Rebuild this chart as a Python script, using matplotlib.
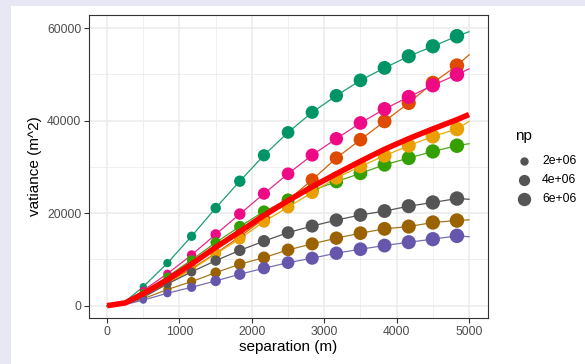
import matplotlib
matplotlib.use("Agg")
import matplotlib.pyplot as plt
from matplotlib.patches import Rectangle
from matplotlib.lines import Line2D
import numpy as np

plt.rcParams['font.family'] = ['Liberation Sans', 'DejaVu Sans']

# ---- data ----
dist = [500, 833, 1167, 1500, 1833, 2167, 2500, 2833, 3167, 3500, 3833, 4167, 4500, 4833]
npairs = [1.4e6, 1.95e6, 2.6e6, 3.4e6, 4.2e6, 4.9e6, 5.35e6, 5.75e6, 6.05e6, 6.35e6, 6.55e6, 6.8e6, 7.0e6, 7.2e6]

teal   = [4100, 9200, 15000, 21100, 26900, 32500, 37450, 41780, 45390, 48700, 51380, 53900, 56060, 58230]
pink   = [3300, 6900, 10970, 15400, 19800, 24200, 28500, 32550, 36080, 39480, 42510, 45110, 47620, 49940]
orange = [2400, 5000, 8000, 11300, 14900, 18800, 22800, 27200, 31900, 35870, 39830, 43800, 48140, 51880]
green  = [2800, 6280, 9890, 13640, 17100, 20350, 22880, 24900, 26800, 28600, 30450, 31900, 33330, 34570]
yellow = [2000, 4700, 7800, 11190, 14450, 18180, 21300, 24460, 27600, 30090, 32400, 34570, 36580, 38180]
grey   = [1800, 4700, 7300, 9740, 11950, 13950, 15800, 17200, 18500, 19600, 20450, 21500, 22300, 23150]
brown  = [1500, 3500, 5200, 7140, 8960, 10390, 12060, 13350, 14590, 15670, 16600, 17100, 17970, 18400]
purple = [1200, 2700, 3980, 5350, 6800, 8090, 9300, 10260, 11340, 12210, 12990, 13720, 14370, 15090]

# fitted-line values at 250 m and at 5000 m
line_start = {'teal': 900, 'pink': 650, 'orange': 450, 'green': 550,
              'yellow': 400, 'grey': 350, 'brown': 300, 'purple': 250}
line_end = {'teal': 59200, 'pink': 51170, 'orange': 54200, 'green': 35000,
            'yellow': 39830, 'grey': 23000, 'brown': 18550, 'purple': 14900}

red_x = [0, 250, 500, 833, 1167, 1500, 1833, 2167, 2500, 2833, 3167, 3500, 3833, 4167, 4500, 4833, 5000]
red_y = [0, 600, 2600, 5600, 9000, 12600, 16000, 19500, 22700, 25700, 28500, 31200, 33800, 36100, 38200, 40200, 41300]

series = {'teal': teal, 'orange': orange, 'pink': pink, 'green': green,
          'yellow': yellow, 'brown': brown, 'grey': grey, 'purple': purple}
line_col = {'teal': '#1B9E77', 'orange': '#D95F02', 'purple': '#7570B3', 'pink': '#E7298A',
            'green': '#4DA61E', 'yellow': '#E6AB02', 'brown': '#A6761D', 'grey': '#555555'}
pt_col = {'teal': '#009466', 'orange': '#DD4A00', 'purple': '#6657AD', 'pink': '#EE0A85',
          'green': '#33A000', 'yellow': '#E99F00', 'brown': '#9A6200', 'grey': '#555555'}

legend_np = [2e6, 4e6, 6e6]
legend_labels = ['2e+06', '4e+06', '6e+06']

W, H = 585, 364
fig = plt.figure(figsize=(W / 100, H / 100), dpi=100)
fig.patch.set_facecolor('#E8E8F4')
fig.patches.append(Rectangle((11 / W, 0), 1, 1 - 6 / H, transform=fig.transFigure,
                             facecolor='white', edgecolor='none', zorder=-10))

L, R, T, B = 89, 488, 15, 318
ax = fig.add_axes([L / W, 1 - B / H, (R - L) / W, (B - T) / H])
ax.set_xlim(-250, 5262)
ax.set_ylim(-2662, 62814)

def diam_px(n):
    return 1.6 + 0.0048 * np.sqrt(n)

ms = [diam_px(n) * 0.72 for n in npairs]

for name, vals in series.items():
    lx = [0, 250] + dist + [5000]
    ly = [0, line_start[name]] + vals + [line_end[name]]
    ax.plot(lx, ly, color=line_col[name], lw=0.9, zorder=2)
for name, vals in series.items():
    ax.scatter(dist, vals, s=[m ** 2 for m in ms], color=pt_col[name], zorder=3, linewidths=0)

ax.plot(red_x, red_y, color='#FF0000', lw=4.0, zorder=4, solid_capstyle='butt',
        solid_joinstyle='round')

ax.set_xticks([0, 1000, 2000, 3000, 4000, 5000])
ax.set_xticks([500, 1500, 2500, 3500, 4500], minor=True)
ax.set_yticks([0, 20000, 40000, 60000])
ax.set_yticks([10000, 30000, 50000], minor=True)
ax.grid(which='major', color='#EBEBEB', lw=1.1, zorder=0)
ax.grid(which='minor', color='#EBEBEB', lw=0.55, zorder=0)
ax.set_axisbelow(True)
ax.tick_params(which='major', direction='out', length=3.5, width=0.8, color='#333333',
               labelcolor='#4D4D4D', labelsize=8.8, pad=2)
ax.tick_params(which='minor', length=0)
for s in ax.spines.values():
    s.set_color('#333333')
    s.set_linewidth(0.8)

ax.set_xlabel('separation (m)', fontsize=11, color='black', labelpad=2)
ax.set_ylabel('vatiance (m^2)', fontsize=11, color='black', labelpad=4)

# legend
fig.text(515 / W, 1 - 136 / H, 'np', fontsize=11, va='center', ha='left')
for i, (n, lab) in enumerate(zip(legend_np, legend_labels)):
    y = 1 - (161 + 18.8 * i) / H
    fig.add_artist(Line2D([524 / W], [y], marker='o', markersize=diam_px(n) * 0.72,
                          color='#555555', markeredgewidth=0, transform=fig.transFigure))
    fig.text(542 / W, y, lab, fontsize=8.8, va='center', ha='left', color='black')

fig.savefig('out.png', dpi=100)
